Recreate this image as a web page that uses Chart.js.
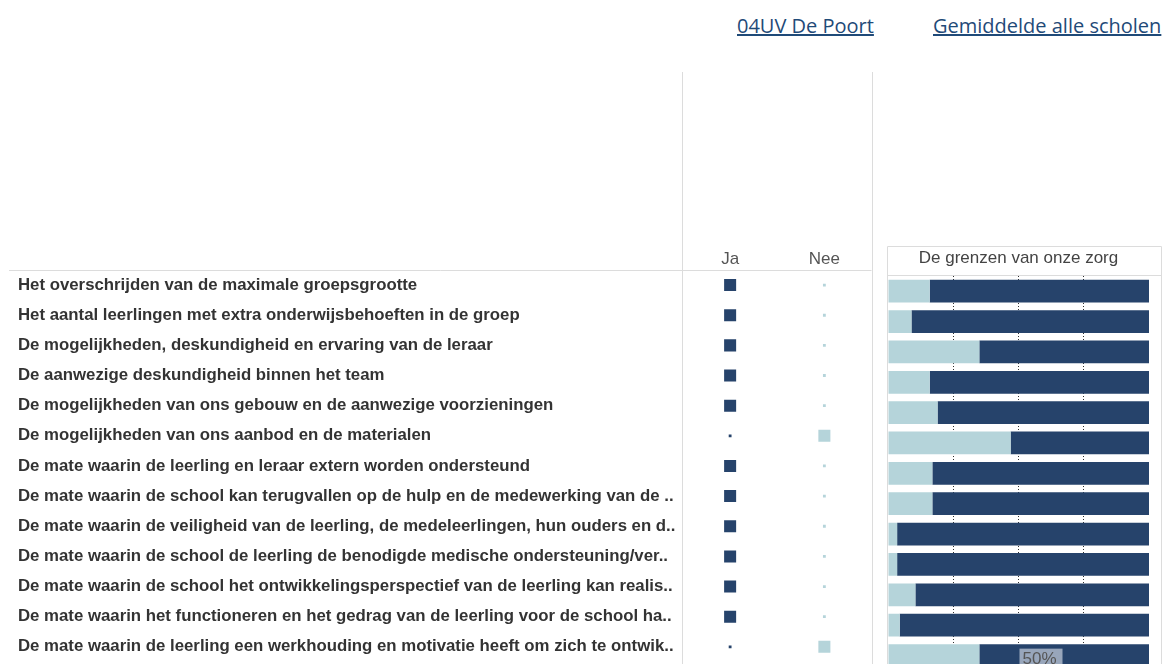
<!DOCTYPE html>
<html>
<head>
<meta charset="utf-8">
<script src="https://cdn.jsdelivr.net/npm/chart.js@4.4.1/dist/chart.umd.min.js"></script>
<style>
  html, body { margin: 0; padding: 0; background: #fff; overflow: hidden; }
  body { width: 1166px; height: 664px; position: relative; }
  .kop { position: absolute; top: 12px; font-family: 'Open Sans', sans-serif; font-size: 20px;
         color: #1f4a78; text-decoration: underline; text-decoration-thickness: 2px; white-space: nowrap; }
  #wrapLinks { position: absolute; left: 0; top: 72px; width: 880px; height: 600px; }
  #wrapRechts { position: absolute; left: 887px; top: 246px; width: 276px; height: 430px; }
</style>
</head>
<body>
<div class="kop" style="left:737px">04UV De Poort</div>
<div class="kop" style="left:933px">Gemiddelde alle scholen</div>
<div id="wrapLinks"><canvas id="schoolChart"></canvas></div>
<div id="wrapRechts"><canvas id="gemiddeldeChart"></canvas></div>
<script>
// Vragen (rijen)
const vragen = [
    "Het overschrijden van de maximale groepsgrootte",
    "Het aantal leerlingen met extra onderwijsbehoeften in de groep",
    "De mogelijkheden, deskundigheid en ervaring van de leraar",
    "De aanwezige deskundigheid binnen het team",
    "De mogelijkheden van ons gebouw en de aanwezige voorzieningen",
    "De mogelijkheden van ons aanbod en de materialen",
    "De mate waarin de leerling en leraar extern worden ondersteund",
    "De mate waarin de school kan terugvallen op de hulp en de medewerking van de ..",
    "De mate waarin de veiligheid van de leerling, de medeleerlingen, hun ouders en d..",
    "De mate waarin de school de leerling de benodigde medische ondersteuning/ver..",
    "De mate waarin de school het ontwikkelingsperspectief van de leerling kan realis..",
    "De mate waarin het functioneren en het gedrag van de leerling voor de school ha..",
    "De mate waarin de leerling een werkhouding en motivatie heeft om zich te ontwik.."
];
const antwoorden = ['Ja', 'Nee'];

// Antwoorden van de school (1 = gekozen, 0 = niet gekozen)
const jaSchool  = [1, 1, 1, 1, 1, 0, 1, 1, 1, 1, 1, 1, 0];
const neeSchool = [0, 0, 0, 0, 0, 1, 0, 0, 0, 0, 0, 0, 1];

// Gemiddelde alle scholen, percentage Nee / Ja
const neeGemiddeld = [16, 9, 35, 16, 19, 47, 17, 17, 3.5, 3.5, 10.5, 4.5, 35];
const jaGemiddeld  = neeGemiddeld.map(v => 100 - v);

const kleurDonker = '#26436b';
const kleurLicht  = '#b5d4da';

Chart.defaults.font.family = "'Liberation Sans', Arial, sans-serif";
Chart.defaults.animation = false;

// lijnen rond het linker paneel
const lijnenLinks = {
    id: 'lijnenLinks',
    beforeDraw(chart) {
        const { ctx, chartArea } = chart;
        ctx.save();
        ctx.strokeStyle = '#dcdcdc';
        ctx.lineWidth = 1;
        ctx.beginPath();
        ctx.moveTo(Math.round(chartArea.left) - 0.5, 0);
        ctx.lineTo(Math.round(chartArea.left) - 0.5, chart.height);
        ctx.moveTo(Math.round(chartArea.right) + 0.5, 0);
        ctx.lineTo(Math.round(chartArea.right) + 0.5, chart.height);
        ctx.moveTo(9, Math.round(chartArea.top) + 0.5);
        ctx.lineTo(chartArea.right, Math.round(chartArea.top) + 0.5);
        ctx.stroke();
        ctx.restore();
    }
};

const puntGrootte = v => v ? 8.5 : 2;

new Chart(document.getElementById('schoolChart'), {
    type: 'scatter',
    data: {
        datasets: [{
            label: 'Ja',
            data: vragen.map(v => ({ x: 'Ja', y: v })),
            backgroundColor: kleurDonker,
            borderWidth: 0,
            pointStyle: 'rect',
            pointRadius: ctx => puntGrootte(jaSchool[ctx.dataIndex])
        }, {
            label: 'Nee',
            data: vragen.map(v => ({ x: 'Nee', y: v })),
            backgroundColor: kleurLicht,
            borderWidth: 0,
            pointStyle: 'rect',
            pointRadius: ctx => puntGrootte(neeSchool[ctx.dataIndex])
        }]
    },
    options: {
        responsive: true,
        maintainAspectRatio: false,
        layout: { padding: { left: 18, top: 168, right: 7, bottom: 3.4 } },
        plugins: { legend: { display: false }, tooltip: { enabled: false } },
        scales: {
            x: {
                type: 'category',
                labels: antwoorden,
                position: 'top',
                offset: true,
                grid: { display: false, drawTicks: false },
                border: { display: false },
                ticks: { color: '#555', font: { size: 17 }, padding: 0 },
                afterFit: scale => { scale.height = 30; }
            },
            y: {
                type: 'category',
                labels: vragen,
                offset: true,
                grid: { display: false, drawTicks: false },
                border: { display: false },
                ticks: { color: '#333', font: { size: 16.8, weight: 'bold' }, crossAlign: 'far', padding: 0 },
                afterFit: scale => { scale.width = 665; }
            }
        }
    },
    plugins: [lijnenLinks]
});

// kader en label rechts
const kaderRechts = {
    id: 'kaderRechts',
    beforeDraw(chart) {
        const { ctx, chartArea } = chart;
        ctx.save();
        ctx.strokeStyle = '#dcdcdc';
        ctx.lineWidth = 1;
        ctx.beginPath();
        ctx.moveTo(0.5, chart.height);
        ctx.lineTo(0.5, 0.5);
        ctx.lineTo(chart.width - 1.5, 0.5);
        ctx.lineTo(chart.width - 1.5, chart.height);
        ctx.moveTo(0.5, Math.round(chartArea.top) - 0.5);
        ctx.lineTo(chart.width - 1.5, Math.round(chartArea.top) - 0.5);
        ctx.stroke();
        ctx.restore();
    },
    afterDraw(chart) {
        const { ctx } = chart;
        const x = chart.scales.x.getPixelForValue(50);
        const meta = chart.getDatasetMeta(1);
        const bar = meta.data[meta.data.length - 1];
        const top = bar.y - bar.height / 2 + 4.5;
        ctx.save();
        ctx.fillStyle = 'rgba(158,172,192,0.95)';
        ctx.fillRect(x + 1, top, 43, 20);
        ctx.fillStyle = '#555';
        ctx.font = "17px 'Liberation Sans', Arial, sans-serif";
        ctx.textBaseline = 'top';
        ctx.fillText('50%', x + 4, top + 2);
        ctx.restore();
    }
};

new Chart(document.getElementById('gemiddeldeChart'), {
    type: 'bar',
    data: {
        labels: vragen,
        datasets: [{
            label: 'Nee',
            data: neeGemiddeld,
            backgroundColor: kleurLicht,
            barPercentage: 0.75,
            categoryPercentage: 1
        }, {
            label: 'Ja',
            data: jaGemiddeld,
            backgroundColor: kleurDonker,
            barPercentage: 0.75,
            categoryPercentage: 1
        }]
    },
    options: {
        indexAxis: 'y',
        responsive: true,
        maintainAspectRatio: false,
        layout: { padding: { left: 1, right: 14, bottom: 5.3 } },
        plugins: {
            legend: { display: false },
            tooltip: { enabled: false },
            title: {
                display: true,
                text: 'De grenzen van onze zorg',
                color: '#444',
                font: { size: 17, weight: 'normal' },
                padding: { top: 1.8, bottom: 7.8 }
            }
        },
        scales: {
            x: {
                stacked: true,
                min: 0,
                max: 100,
                z: 1,
                ticks: { display: false, stepSize: 25 },
                border: { display: false, dash: [1, 2] },
                grid: {
                    drawTicks: false,
                    color: ctx => (ctx.tick.value === 0 || ctx.tick.value === 100) ? 'rgba(0,0,0,0)' : 'rgba(10,10,10,0.85)',
                    lineWidth: 1
                },
                afterBuildTicks: scale => { scale.ticks = [0, 25, 50, 75, 100].map(v => ({ value: v })); }
            },
            y: {
                stacked: true,
                display: false
            }
        }
    },
    plugins: [kaderRechts]
});
</script>
</body>
</html>
